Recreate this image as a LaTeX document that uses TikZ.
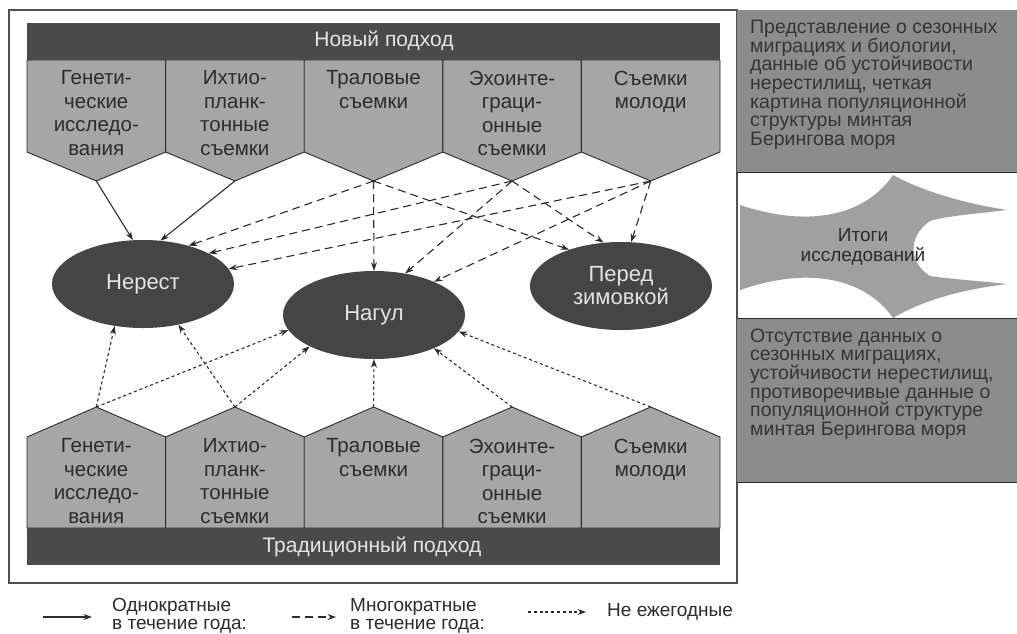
\documentclass[tikz,border=0pt]{standalone}
\usepackage{fontspec}
\setmainfont{Liberation Sans}
\usetikzlibrary{arrows.meta,shapes.geometric}
\definecolor{pentfill}{HTML}{A6A6A6}
\definecolor{barfill}{HTML}{4A4A4A}
\definecolor{ellfill}{HTML}{454545}
\definecolor{boxfill}{HTML}{8C8C8C}
\definecolor{starfill}{HTML}{A0A0A0}
\definecolor{ink}{HTML}{2C2C2C}
\definecolor{boxink}{HTML}{353535}
\definecolor{lighttext}{HTML}{E4E4E4}
\definecolor{framecol}{HTML}{505050}
\begin{document}
\begin{tikzpicture}[x=1pt,y=-1pt,
  pent/.style={fill=pentfill,draw=ink,line width=0.9pt,line join=miter},
  bar/.style={fill=barfill},
  bartext/.style={inner sep=0pt,text=lighttext,font=\fontsize{21}{24}\selectfont},
  ptext/.style={anchor=north,align=center,inner sep=0pt,text=ink,font=\fontsize{20.5}{23.5}\selectfont},
  stage/.style={ellipse,fill=ellfill,minimum width=182pt,minimum height=88pt,inner sep=0pt,text=lighttext,align=center,font=\fontsize{22}{23}\selectfont},
  boxtext/.style={anchor=north west,align=left,inner sep=0pt,text=boxink,font=\fontsize{19.5}{18.6}\selectfont},
  legtext/.style={anchor=west,align=left,inner sep=0pt,text=ink,font=\fontsize{19}{18}\selectfont},
  link/.style={draw=ink,line width=1.1pt,-{Stealth[length=8.5pt,width=6pt]}},
  once/.style={link},
  many/.style={link,dash pattern=on 8pt off 5pt},
  rare/.style={link,dash pattern=on 3pt off 2.8pt}]
\useasboundingbox (0,0) rectangle (1017,633);
\fill[white] (0,0) rectangle (1017,633);

% outer frame
\draw[framecol,line width=1.6pt] (9,10) rectangle (737,583);

% pentagons
\foreach \i in {0,...,4}{
  \pgfmathsetmacro{\xa}{27+138.6*\i}
  \pgfmathsetmacro{\xb}{27+138.6*(\i+1)}
  \pgfmathsetmacro{\xm}{27+138.6*(\i+0.5)}
  \draw[pent] (\xa,60) -- (\xb,60) -- (\xb,152) -- (\xm,181) -- (\xa,152) -- cycle;
  \draw[pent] (\xa,528) -- (\xb,528) -- (\xb,437) -- (\xm,407) -- (\xa,437) -- cycle;
  \coordinate (nt\i) at (\xm,181);
  \coordinate (nb\i) at (\xm,407);
}

% bars
\fill[bar] (27,23) rectangle (720,60);
\node[bartext] (newlbl) at (384,41) {Новый подход};
\fill[bar] (27,528) rectangle (720,565);
\node[bartext] (oldlbl) at (372,547) {Традиционный подход};

% pentagon texts (top)
\node[ptext] (tt0) at (96.3,70.5) {Генети-\\ческие\\исследо-\\вания};
\node[ptext] (tt1) at (234.9,70.5) {Ихтио-\\планк-\\тонные\\съемки};
\node[ptext] (tt2) at (373.5,70.5) {Траловые\\съемки};
\node[ptext] (tt3) at (512.1,70.5) {Эхоинте-\\граци-\\онные\\съемки};
\node[ptext] (tt4) at (650.7,70.5) {Съемки\\молоди};
% pentagon texts (bottom)
\node[ptext] (bt0) at (96.3,438.5) {Генети-\\ческие\\исследо-\\вания};
\node[ptext] (bt1) at (234.9,438.5) {Ихтио-\\планк-\\тонные\\съемки};
\node[ptext] (bt2) at (373.5,438.5) {Траловые\\съемки};
\node[ptext] (bt3) at (512.1,438.5) {Эхоинте-\\граци-\\онные\\съемки};
\node[ptext] (bt4) at (650.7,438.5) {Съемки\\молоди};

% stages
\node[stage] (nerest) at (143,284) {Нерест};
\node[stage] (nagul) at (374,315) {Нагул};
\node[stage] (zima) at (621,286) {Перед\\зимовкой};

% top connectors
\draw[once] (nt0) -- (nerest.103);
\draw[once] (nt1) -- (nerest.68);
\draw[many] (nt2) -- (nerest.40);
\draw[many] (nt3) -- (nerest.25);
\draw[many] (nt4) -- (nerest.10);
\draw[many] (nt2) -- (nagul.90);
\draw[many] (nt3) -- (nagul.53);
\draw[many] (nt4) -- (nagul.29);
\draw[many] (nt2) -- (zima.145);
\draw[many] (nt3) -- (zima.112);
\draw[many] (nt4) -- (zima.77);

% bottom connectors
\draw[rare] (nb0) -- (nerest.236);
\draw[rare] (nb1) -- (nerest.311);
\draw[rare] (nb0) -- (nagul.190);
\draw[rare] (nb1) -- (nagul.206);
\draw[rare] (nb2) -- (nagul.270);
\draw[rare] (nb3) -- (nagul.331);
\draw[rare] (nb4) -- (nagul.349);

% right column
\fill[boxfill] (737,10) rectangle (1017,172);
\draw[ink,line width=0.8pt] (737,172) -- (1017,172);
\node[boxtext] (newres) at (750,20) {Представление о сезонных\\миграциях и биологии,\\данные об устойчивости\\нерестилищ, четкая\\картина популяционной\\структуры минтая\\Берингова моря};
\fill[boxfill] (737,318) rectangle (1017,482);
\draw[ink,line width=0.8pt] (737,318) -- (1017,318);
\draw[ink,line width=0.8pt] (737,482) -- (1017,482);
\node[boxtext] (oldres) at (750,328.5) {Отсутствие данных о\\сезонных миграциях,\\устойчивости нерестилищ,\\противоречивые данные о\\популяционной структуре\\минтая Берингова моря};

% double arrow shape
\fill[starfill] (740,205) .. controls (815,230) and (868,212) .. (893,175)
  .. controls (930,195) and (975,205) .. (1007,210)
  .. controls (975,214) and (945,216) .. (930,221)
  .. controls (908,236) and (908,262) .. (930,276)
  .. controls (950,279) and (980,281) .. (1007,284)
  .. controls (975,288) and (930,296) .. (893,318)
  .. controls (868,282) and (815,264) .. (740,290) -- cycle;
\node[align=center,inner sep=0pt,text=ink,font=\fontsize{19}{20}\selectfont] (itogi) at (863,247) {Итоги\\исследований};

% legend
\coordinate (l1a) at (43,617); \coordinate (l1b) at (92,617);
\draw[once] (l1a) -- (l1b);
\node[legtext] (leg1) at (112,616) {Однократные\\в течение года:};
\coordinate (l2a) at (292,617); \coordinate (l2b) at (336,617);
\draw[many] (l2a) -- (l2b);
\node[legtext] (leg2) at (350,616) {Многократные\\в течение года:};
\coordinate (l3a) at (528,612); \coordinate (l3b) at (586,612);
\draw[rare] (l3a) -- (l3b);
\node[legtext] (leg3) at (607,612) {Не ежегодные};
\end{tikzpicture}
\end{document}
